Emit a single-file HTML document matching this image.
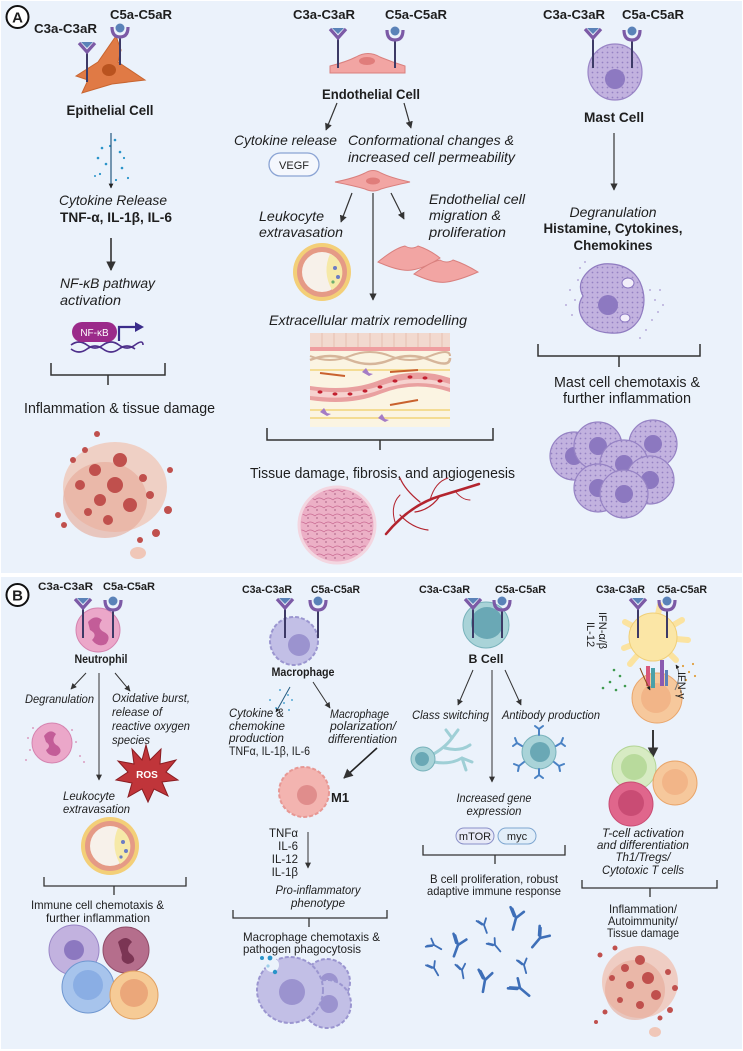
<!DOCTYPE html>
<html><head><meta charset="utf-8"><style>
html,body{margin:0;padding:0;background:#fff;}
svg{display:block;}
text{font-family:"Liberation Sans",sans-serif;fill:#1e1e1e;}
.b{font-weight:bold;}
.i{font-style:italic;}
</style></head><body>
<svg width="743" height="1051" viewBox="0 0 743 1051" xmlns="http://www.w3.org/2000/svg">
<defs>
<marker id="ah" viewBox="0 0 10 10" refX="9" refY="5" markerWidth="6" markerHeight="6" orient="auto"><path d="M0,0 L10,5 L0,10 z" fill="#333"/></marker>
<marker id="ahb" viewBox="0 0 10 10" refX="9" refY="5" markerWidth="4" markerHeight="4" orient="auto"><path d="M0,0 L10,5 L0,10 z" fill="#222"/></marker>
<pattern id="dots" width="5" height="5" patternUnits="userSpaceOnUse"><circle cx="2.5" cy="2.5" r="0.9" fill="#9582c3"/></pattern>
<pattern id="pk" width="9" height="8" patternUnits="userSpaceOnUse"><path d="M0,4 Q4,0 9,4" stroke="#c96b93" stroke-width="0.8" fill="none"/><circle cx="2" cy="6" r="0.6" fill="#7a2a55"/></pattern>
<g id="c3"><line x1="0" y1="10" x2="0" y2="40" stroke="#3d3a66" stroke-width="2"/><path d="M-8,1 L0,10 L8,1" stroke="#7c5aa6" stroke-width="3.2" fill="none"/><polygon points="-6,0 6,0 0,6" fill="#5a82b8"/></g>
<g id="c5"><line x1="0" y1="11" x2="0" y2="40" stroke="#3d3a66" stroke-width="2"/><path d="M-8,2 Q-8,12 0,12 Q8,12 8,2" stroke="#7c5aa6" stroke-width="3.2" fill="none"/><circle cx="0" cy="3" r="4.5" fill="#5a82b8"/></g>
<g id="ab"><path d="M0,12 L0,0 M0,0 L-6,-8 M0,0 L6,-8 M-2.5,-1.5 L-8,-9" stroke="#3e6fb8" stroke-width="2.6" fill="none" stroke-linecap="round"/></g>
<g id="mc"><circle r="24" fill="#c2b2df" stroke="#9683c4" stroke-width="1.2"/><circle r="24" fill="url(#dots)"/><circle r="9" fill="#8c78c0"/></g>
</defs>

<!-- Panels -->
<rect x="1" y="1" width="741" height="572" fill="#ebf2fb"/>
<rect x="1" y="577" width="741" height="472" fill="#ebf2fb"/>
<circle cx="17.5" cy="17" r="11" fill="#fff" stroke="#111" stroke-width="2"/>
<text x="17.5" y="22.5" class="b" font-size="15" text-anchor="middle">A</text>
<circle cx="17.5" cy="595" r="11" fill="#fff" stroke="#111" stroke-width="2"/>
<text x="17.5" y="600.5" class="b" font-size="15" text-anchor="middle">B</text>

<!-- ===== Panel A left: epithelial ===== -->
<text x="34" y="33" class="b" font-size="13" textLength="63" lengthAdjust="spacingAndGlyphs">C3a-C3aR</text>
<text x="110" y="19" class="b" font-size="13" textLength="62" lengthAdjust="spacingAndGlyphs">C5a-C5aR</text>
<path d="M76,76 L98,62 L116,36 L121,50 L118,62 L145,80 L112,84 L82,93 L88,80 Z" fill="#e07a45" stroke="#c86530" stroke-width="1"/>
<ellipse cx="109" cy="70" rx="7" ry="6" fill="#b9531f"/>
<use href="#c3" x="87" y="42"/>
<use href="#c5" x="120" y="25"/>
<text x="110" y="115" class="b" font-size="14" text-anchor="middle" textLength="87" lengthAdjust="spacingAndGlyphs">Epithelial Cell</text>
<g fill="#2a94c9">
<circle cx="102" cy="148" r="1.3"/><circle cx="115" cy="140" r="1.3"/><circle cx="98" cy="158" r="1.3"/><circle cx="120" cy="152" r="1.3"/><circle cx="106" cy="164" r="1.3"/><circle cx="122" cy="168" r="1.3"/><circle cx="100" cy="174" r="1.1"/><circle cx="128" cy="178" r="1.1"/><circle cx="116" cy="180" r="1.1"/><circle cx="110" cy="146" r="1.1"/><circle cx="124" cy="158" r="1.1"/><circle cx="95" cy="176" r="1"/>
</g>
<line x1="111" y1="133" x2="111" y2="188" stroke="#245a80" stroke-width="1.2" marker-end="url(#ahb)"/>
<text x="113" y="205" class="i" font-size="14" text-anchor="middle" textLength="108" lengthAdjust="spacingAndGlyphs">Cytokine Release</text>
<text x="60" y="222" class="b" font-size="14" textLength="112" lengthAdjust="spacingAndGlyphs">TNF-α, IL-1β, IL-6</text>
<line x1="111" y1="238" x2="111" y2="270" stroke="#333" stroke-width="1.6" marker-end="url(#ah)"/>
<text x="60" y="288" class="i" font-size="14" textLength="95" lengthAdjust="spacingAndGlyphs">NF-κB pathway</text>
<text x="60" y="305" class="i" font-size="14" textLength="61" lengthAdjust="spacingAndGlyphs">activation</text>
<path d="M71,345 Q79,339 87,345 T103,345 T119,345 T135,345 T143,345 M71,349 Q79,355 87,349 T103,349 T119,349 T135,349" stroke="#4d2e8a" stroke-width="1.6" fill="none"/>
<rect x="72" y="322" width="45" height="20" rx="10" fill="#9b2a8a"/>
<text x="94.5" y="336" font-size="10" fill="#fff" text-anchor="middle" style="fill:#fff">NF-κB</text>
<path d="M119,341 L119,327 L137,327" stroke="#3a2c8a" stroke-width="2.2" fill="none"/>
<polygon points="135,322 144,327 135,332" fill="#3a2c8a"/>
<path d="M51,363 L51,375 L165,375 L165,363 M108,375 L108,385" stroke="#333" stroke-width="1.5" fill="none"/>
<text x="24" y="413" font-size="14.5" textLength="191" lengthAdjust="spacingAndGlyphs">Inflammation &amp; tissue damage</text>
<g>
<ellipse cx="115" cy="487" rx="52" ry="45" fill="#f0c7b8" opacity="0.8"/>
<ellipse cx="105" cy="500" rx="42" ry="38" fill="#e6a896" opacity="0.6"/>
<g fill="#c0504d"><circle cx="120" cy="460" r="7"/><circle cx="95" cy="470" r="6"/><circle cx="80" cy="485" r="5"/><circle cx="115" cy="485" r="8"/><circle cx="100" cy="500" r="6"/><circle cx="130" cy="505" r="7"/><circle cx="143" cy="478" r="4"/><circle cx="150" cy="495" r="4"/><circle cx="108" cy="520" r="5"/><circle cx="88" cy="512" r="4"/><circle cx="73" cy="460" r="3"/><circle cx="85" cy="450" r="3"/><circle cx="170" cy="470" r="3"/><circle cx="168" cy="510" r="4"/><circle cx="58" cy="515" r="3"/><circle cx="64" cy="525" r="3"/><circle cx="156" cy="533" r="4"/><circle cx="140" cy="540" r="3"/><circle cx="97" cy="434" r="3"/></g>
<ellipse cx="138" cy="553" rx="8" ry="6" fill="#f0c7b8"/>
</g>

<!-- ===== Panel A middle: endothelial ===== -->
<text x="293" y="19" class="b" font-size="13" textLength="62" lengthAdjust="spacingAndGlyphs">C3a-C3aR</text>
<text x="385" y="19" class="b" font-size="13" textLength="62" lengthAdjust="spacingAndGlyphs">C5a-C5aR</text>
<path d="M330,73 L330,66 Q346,62 356,57 Q368,50 380,57 Q392,62 405,66 L405,73 Z" fill="#f2a5a3" stroke="#d9807e" stroke-width="1"/>
<ellipse cx="367" cy="61" rx="8" ry="4" fill="#e07d7b"/>
<use href="#c3" x="338" y="28" />
<use href="#c5" x="395" y="28" />
<text x="371" y="99" class="b" font-size="14" text-anchor="middle" textLength="98" lengthAdjust="spacingAndGlyphs">Endothelial Cell</text>
<line x1="337" y1="103" x2="326" y2="130" stroke="#333" stroke-width="1.2" marker-end="url(#ah)"/>
<line x1="404" y1="103" x2="411" y2="128" stroke="#333" stroke-width="1.2" marker-end="url(#ah)"/>
<text x="234" y="145" class="i" font-size="14" textLength="103" lengthAdjust="spacingAndGlyphs">Cytokine release</text>
<text x="348" y="145" class="i" font-size="14" textLength="166" lengthAdjust="spacingAndGlyphs">Conformational changes &amp;</text>
<text x="348" y="162" class="i" font-size="14" textLength="167" lengthAdjust="spacingAndGlyphs">increased cell permeability</text>
<rect x="269" y="153" width="50" height="23" rx="11.5" fill="#f4f7fd" stroke="#8ba4d4" stroke-width="1.3"/>
<text x="294" y="169" font-size="11" text-anchor="middle">VEGF</text>
<path d="M335,182 Q355,178 365,173 Q373,168 381,173 Q391,178 410,182 Q391,186 381,189 Q373,193 365,189 Q355,186 335,182 Z" fill="#f2a5a3" stroke="#d9807e"/>
<ellipse cx="373" cy="181" rx="7" ry="3.5" fill="#e07d7b"/>
<line x1="352" y1="193" x2="341" y2="222" stroke="#333" stroke-width="1.2" marker-end="url(#ah)"/>
<line x1="373" y1="193" x2="373" y2="300" stroke="#333" stroke-width="1.2" marker-end="url(#ah)"/>
<line x1="391" y1="193" x2="404" y2="219" stroke="#333" stroke-width="1.2" marker-end="url(#ah)"/>
<text x="259" y="221" class="i" font-size="14" textLength="65" lengthAdjust="spacingAndGlyphs">Leukocyte</text>
<text x="259" y="237" class="i" font-size="14" textLength="84" lengthAdjust="spacingAndGlyphs">extravasation</text>
<text x="429" y="204" class="i" font-size="14" textLength="96" lengthAdjust="spacingAndGlyphs">Endothelial cell</text>
<text x="429" y="220" class="i" font-size="14" textLength="72" lengthAdjust="spacingAndGlyphs">migration &amp;</text>
<text x="429" y="237" class="i" font-size="14" textLength="77" lengthAdjust="spacingAndGlyphs">proliferation</text>
<g>
<circle cx="322" cy="272" r="29" fill="#f3cf78"/>
<circle cx="322" cy="272" r="25" fill="#e59a86"/>
<circle cx="322" cy="272" r="20" fill="#f7f1ea"/>
<path d="M330,254 Q322,272 332,290 A20,20 0 0,0 330,254 Z" fill="#f6e9a8"/>
<circle cx="335" cy="268" r="2" fill="#6c7cc4"/><circle cx="338" cy="277" r="2" fill="#6c7cc4"/><circle cx="333" cy="282" r="1.6" fill="#6fae6f"/>
</g>
<path d="M378,262 Q395,248 405,246 Q412,250 418,246 Q430,250 440,258 Q425,268 412,270 Q400,272 378,262 Z" fill="#f2a5a3" stroke="#d9807e"/>
<path d="M414,274 Q430,262 440,260 Q447,264 453,260 Q465,264 478,272 Q460,280 447,282 Q435,284 414,274 Z" fill="#f2a5a3" stroke="#d9807e"/>
<text x="269" y="325" class="i" font-size="14" textLength="198" lengthAdjust="spacingAndGlyphs">Extracellular matrix remodelling</text>
<g>
<rect x="310" y="333" width="140" height="94" fill="#fbf4e2"/>
<rect x="310" y="333" width="140" height="14" fill="#f2d9cf"/>
<g stroke="#e2b9ab" stroke-width="0.8"><line x1="322" y1="333" x2="322" y2="347"/><line x1="334" y1="333" x2="334" y2="347"/><line x1="346" y1="333" x2="346" y2="347"/><line x1="358" y1="333" x2="358" y2="347"/><line x1="370" y1="333" x2="370" y2="347"/><line x1="382" y1="333" x2="382" y2="347"/><line x1="394" y1="333" x2="394" y2="347"/><line x1="406" y1="333" x2="406" y2="347"/><line x1="418" y1="333" x2="418" y2="347"/><line x1="430" y1="333" x2="430" y2="347"/><line x1="442" y1="333" x2="442" y2="347"/></g>
<rect x="310" y="347" width="140" height="4" fill="#ef9ea0"/>
<path d="M310,360 Q330,352 350,360 T390,360 T430,360 T450,358" stroke="#d6b59a" stroke-width="2.5" fill="none"/>
<path d="M310,356 Q330,364 350,356 T390,356 T430,356 T450,356" stroke="#d6b59a" stroke-width="2" fill="none"/>
<path d="M310,370 L450,370 M310,410 L450,410 M310,418 L450,418" stroke="#f1d37a" stroke-width="1.5"/>
<path d="M310,386 Q350,392 380,380 Q415,366 450,378 L450,392 Q415,380 380,394 Q350,406 310,400 Z" fill="#e9a0a0"/>
<path d="M310,390 Q350,396 380,386 Q415,373 450,384 L450,388 Q415,377 380,390 Q350,401 310,396 Z" fill="#f6d2cf"/>
<g fill="#c3202f"><ellipse cx="320" cy="392" rx="2.5" ry="1.6"/><ellipse cx="335" cy="394" rx="2.5" ry="1.6"/><ellipse cx="350" cy="394" rx="2.5" ry="1.6"/><ellipse cx="365" cy="391" rx="2.5" ry="1.6"/><ellipse cx="380" cy="387" rx="2.5" ry="1.6"/><ellipse cx="395" cy="381" rx="2.5" ry="1.6"/><ellipse cx="410" cy="377" rx="2.5" ry="1.6"/><ellipse cx="425" cy="378" rx="2.5" ry="1.6"/><ellipse cx="440" cy="381" rx="2.5" ry="1.6"/></g>
<g fill="#a57cc6"><path d="M362,372 l4,-4 l3,5 l4,1 l-4,2 z"/><path d="M320,412 l4,-4 l3,5 l4,1 l-4,2 z"/><path d="M378,418 l4,-4 l3,5 l4,1 l-4,2 z"/></g>
<line x1="320" y1="373" x2="345" y2="376" stroke="#c9612e" stroke-width="2"/>
<line x1="390" y1="372" x2="418" y2="370" stroke="#c9612e" stroke-width="2"/>
<line x1="390" y1="405" x2="418" y2="400" stroke="#c9612e" stroke-width="2"/>
</g>
<path d="M267,428 L267,440 L493,440 L493,428 M380,440 L380,450" stroke="#333" stroke-width="1.5" fill="none"/>
<text x="250" y="478" font-size="14.5" textLength="265" lengthAdjust="spacingAndGlyphs">Tissue damage, fibrosis, and angiogenesis</text>
<circle cx="337" cy="525" r="38" fill="#ecb0c6" stroke="#f3d6e0" stroke-width="3"/>
<circle cx="337" cy="525" r="36" fill="url(#pk)"/>
<g stroke="#b3242e" fill="none" stroke-linecap="round">
<path d="M386,534 Q410,505 440,496 Q460,490 479,484" stroke-width="2.5"/>
<path d="M440,496 Q430,510 415,512" stroke-width="1.2"/>
<path d="M420,502 Q405,490 400,478" stroke-width="1.2"/>
<path d="M400,515 Q412,528 428,530" stroke-width="1.2"/>
<path d="M455,491 Q462,500 470,500" stroke-width="1"/>
<path d="M430,500 Q435,482 448,478" stroke-width="1"/>
<path d="M395,522 Q390,505 400,495" stroke-width="1"/>
</g>

<!-- ===== Panel A right: mast ===== -->
<text x="543" y="19" class="b" font-size="13" textLength="62" lengthAdjust="spacingAndGlyphs">C3a-C3aR</text>
<text x="622" y="19" class="b" font-size="13" textLength="62" lengthAdjust="spacingAndGlyphs">C5a-C5aR</text>
<ellipse cx="615" cy="72" rx="27" ry="28" fill="#c2b2df" stroke="#9a86c6" stroke-width="1.2"/>
<ellipse cx="615" cy="72" rx="27" ry="28" fill="url(#dots)"/>
<circle cx="615" cy="79" r="10" fill="#8d79c1"/>
<use href="#c3" x="593" y="28"/>
<use href="#c5" x="632" y="28"/>
<text x="614" y="122" class="b" font-size="14" text-anchor="middle" textLength="60" lengthAdjust="spacingAndGlyphs">Mast Cell</text>
<line x1="614" y1="133" x2="614" y2="190" stroke="#333" stroke-width="1.2" marker-end="url(#ah)"/>
<text x="613" y="217" class="i" font-size="14" text-anchor="middle" textLength="87" lengthAdjust="spacingAndGlyphs">Degranulation</text>
<text x="613" y="233" class="b" font-size="14" text-anchor="middle" textLength="139" lengthAdjust="spacingAndGlyphs">Histamine, Cytokines,</text>
<text x="613" y="250" class="b" font-size="14" text-anchor="middle" textLength="79" lengthAdjust="spacingAndGlyphs">Chemokines</text>
<path d="M585,275 Q595,262 612,264 Q632,266 640,282 Q648,300 640,318 Q630,335 610,333 Q590,332 582,318 Q576,306 583,296 Q577,285 585,275 Z" fill="#c2b2df" stroke="#8f7bc0" stroke-width="1.2"/>
<path d="M585,275 Q595,262 612,264 Q632,266 640,282 Q648,300 640,318 Q630,335 610,333 Q590,332 582,318 Q576,306 583,296 Q577,285 585,275 Z" fill="url(#dots)"/>
<circle cx="608" cy="305" r="10" fill="#8d79c1"/>
<ellipse cx="628" cy="283" rx="6" ry="5" fill="#f2eefa" stroke="#8d79c1"/>
<ellipse cx="625" cy="318" rx="5" ry="4" fill="#f2eefa" stroke="#8d79c1"/>
<g fill="#a898d0"><circle cx="570" cy="290" r="0.9"/><circle cx="575" cy="300" r="0.9"/><circle cx="566" cy="305" r="0.9"/><circle cx="572" cy="315" r="0.9"/><circle cx="578" cy="280" r="0.9"/><circle cx="650" cy="290" r="0.9"/><circle cx="655" cy="300" r="0.9"/><circle cx="658" cy="312" r="0.9"/><circle cx="652" cy="320" r="0.9"/><circle cx="660" cy="290" r="0.9"/><circle cx="646" cy="330" r="0.9"/><circle cx="580" cy="268" r="0.9"/><circle cx="585" cy="262" r="0.9"/><circle cx="640" cy="338" r="0.9"/><circle cx="663" cy="305" r="0.9"/></g>
<path d="M538,344 L538,356 L700,356 L700,344 M619,356 L619,367" stroke="#333" stroke-width="1.5" fill="none"/>
<text x="627" y="387" font-size="14.5" text-anchor="middle" textLength="146" lengthAdjust="spacingAndGlyphs">Mast cell chemotaxis &amp;</text>
<text x="627" y="403" font-size="14.5" text-anchor="middle" textLength="128" lengthAdjust="spacingAndGlyphs">further inflammation</text>
<use href="#mc" x="574" y="456"/>
<use href="#mc" x="598" y="446"/>
<use href="#mc" x="653" y="444"/>
<use href="#mc" x="624" y="464"/>
<use href="#mc" x="598" y="488"/>
<use href="#mc" x="650" y="480"/>
<use href="#mc" x="624" y="494"/>

<!-- ===== Panel B: neutrophil ===== -->
<text x="38" y="590" class="b" font-size="11" textLength="55" lengthAdjust="spacingAndGlyphs">C3a-C3aR</text>
<text x="103" y="590" class="b" font-size="11" textLength="52" lengthAdjust="spacingAndGlyphs">C5a-C5aR</text>
<circle cx="98" cy="630" r="22" fill="#eba7c9" stroke="#d584b0"/>
<path d="M88,622 Q95,614 102,620 Q96,628 104,632 Q112,636 106,644 Q98,648 92,640 Q98,634 90,630 Z" fill="#c35d98"/>
<use href="#c3" x="83" y="598"/>
<use href="#c5" x="113" y="598"/>
<text x="101" y="663" class="b" font-size="11.5" text-anchor="middle" textLength="53" lengthAdjust="spacingAndGlyphs">Neutrophil</text>
<line x1="86" y1="673" x2="71" y2="689" stroke="#333" stroke-width="1" marker-end="url(#ah)"/>
<line x1="99" y1="673" x2="99" y2="780" stroke="#333" stroke-width="1" marker-end="url(#ah)"/>
<line x1="115" y1="673" x2="130" y2="691" stroke="#333" stroke-width="1" marker-end="url(#ah)"/>
<text x="25" y="703" class="i" font-size="11.5" textLength="69" lengthAdjust="spacingAndGlyphs">Degranulation</text>
<text x="112" y="702" class="i" font-size="11.5" textLength="78" lengthAdjust="spacingAndGlyphs">Oxidative burst,</text>
<text x="112" y="716" class="i" font-size="11.5" textLength="50" lengthAdjust="spacingAndGlyphs">release of</text>
<text x="112" y="730" class="i" font-size="11.5" textLength="78" lengthAdjust="spacingAndGlyphs">reactive oxygen</text>
<text x="112" y="744" class="i" font-size="11.5" textLength="38" lengthAdjust="spacingAndGlyphs">species</text>
<circle cx="52" cy="743" r="20" fill="#eba7c9" stroke="#d584b0"/>
<path d="M44,736 Q50,728 56,734 Q50,742 58,746 Q64,752 56,756 Q48,756 46,750 Q52,746 46,742 Z" fill="#c35d98"/>
<g fill="#d584b0"><circle cx="28" cy="738" r="0.9"/><circle cx="30" cy="750" r="0.9"/><circle cx="26" cy="760" r="0.9"/><circle cx="76" cy="742" r="0.9"/><circle cx="80" cy="756" r="0.9"/><circle cx="84" cy="762" r="0.9"/><circle cx="72" cy="730" r="0.9"/><circle cx="33" cy="728" r="0.9"/></g>
<polygon points="146,745 150,760 161,749 160,764 176,760 166,772 178,780 162,782 168,796 154,789 148,802 142,789 128,797 132,783 116,780 128,772 118,761 134,764 132,749 142,760" fill="#c0353a" stroke="#8a1d22" stroke-width="1"/>
<text x="147" y="778" class="b" font-size="10" text-anchor="middle" style="fill:#fff">ROS</text>
<text x="63" y="800" class="i" font-size="11.5" textLength="52" lengthAdjust="spacingAndGlyphs">Leukocyte</text>
<text x="63" y="813" class="i" font-size="11.5" textLength="67" lengthAdjust="spacingAndGlyphs">extravasation</text>
<circle cx="110" cy="846" r="29" fill="#f3cf78"/>
<circle cx="110" cy="846" r="25" fill="#e59a86"/>
<circle cx="110" cy="846" r="20" fill="#f7f1ea"/>
<path d="M118,828 Q110,846 120,864 A20,20 0 0,0 118,828 Z" fill="#f6e9a8"/>
<circle cx="123" cy="842" r="2" fill="#6c7cc4"/><circle cx="126" cy="851" r="2" fill="#6c7cc4"/><circle cx="121" cy="857" r="1.6" fill="#6c7cc4"/>
<path d="M44,877 L44,886 L186,886 L186,877 M114,886 L114,895" stroke="#333" stroke-width="1.3" fill="none"/>
<text x="31" y="909" font-size="12" textLength="133" lengthAdjust="spacingAndGlyphs">Immune cell chemotaxis &amp;</text>
<text x="98" y="922" font-size="12" text-anchor="middle" textLength="104" lengthAdjust="spacingAndGlyphs">further inflammation</text>
<circle cx="74" cy="950" r="25" fill="#c2b2df" stroke="#9a86c6"/><circle cx="74" cy="950" r="10" fill="#8c78c0"/>
<circle cx="126" cy="950" r="23" fill="#b56e8c" stroke="#8f4c68"/><path d="M118,942 Q126,934 132,942 Q124,950 132,955 Q138,962 128,964 Q120,962 122,955 Z" fill="#7b3554"/>
<circle cx="88" cy="987" r="26" fill="#a7c4ec" stroke="#6f97d0"/><circle cx="88" cy="985" r="15" fill="#8aaee4"/>
<circle cx="134" cy="995" r="24" fill="#f6cb96" stroke="#e0a060"/><circle cx="134" cy="993" r="14" fill="#eba77a"/>

<!-- ===== Panel B: macrophage ===== -->
<text x="242" y="593" class="b" font-size="11" textLength="50" lengthAdjust="spacingAndGlyphs">C3a-C3aR</text>
<text x="311" y="593" class="b" font-size="11" textLength="49" lengthAdjust="spacingAndGlyphs">C5a-C5aR</text>
<circle cx="294" cy="641" r="24" fill="#c2bfe6" stroke="#9b96d0" stroke-width="2" stroke-dasharray="4 2"/>
<circle cx="299" cy="645" r="11" fill="#9b93cf"/>
<use href="#c3" x="285" y="598"/>
<use href="#c5" x="318" y="598"/>
<text x="303" y="676" class="b" font-size="12" text-anchor="middle" textLength="63" lengthAdjust="spacingAndGlyphs">Macrophage</text>
<line x1="290" y1="687" x2="276" y2="712" stroke="#245a80" stroke-width="1" marker-end="url(#ahb)"/>
<g fill="#2a94c9"><circle cx="280" cy="690" r="0.9"/><circle cx="288" cy="695" r="0.9"/><circle cx="270" cy="700" r="0.9"/><circle cx="284" cy="703" r="0.9"/><circle cx="292" cy="700" r="0.9"/><circle cx="276" cy="708" r="0.9"/><circle cx="289" cy="710" r="0.9"/></g>
<line x1="313" y1="682" x2="330" y2="708" stroke="#333" stroke-width="1" marker-end="url(#ah)"/>
<text x="229" y="717" class="i" font-size="11.5" textLength="55" lengthAdjust="spacingAndGlyphs">Cytokine &amp;</text>
<text x="229" y="730" class="i" font-size="11.5" textLength="56" lengthAdjust="spacingAndGlyphs">chemokine</text>
<text x="229" y="742" class="i" font-size="11.5" textLength="55" lengthAdjust="spacingAndGlyphs">production</text>
<text x="229" y="755" font-size="11.5" textLength="81" lengthAdjust="spacingAndGlyphs">TNFα, IL-1β, IL-6</text>
<text x="330" y="718" class="i" font-size="11.5" textLength="59" lengthAdjust="spacingAndGlyphs">Macrophage</text>
<text x="330" y="730" class="i" font-size="11.5" textLength="66" lengthAdjust="spacingAndGlyphs">polarization/</text>
<text x="328" y="743" class="i" font-size="11.5" textLength="69" lengthAdjust="spacingAndGlyphs">differentiation</text>
<line x1="377" y1="748" x2="344" y2="778" stroke="#222" stroke-width="1.6" marker-end="url(#ah)"/>
<circle cx="304" cy="792" r="25" fill="#f3b4b0" stroke="#e79894" stroke-width="2" stroke-dasharray="4 2"/>
<circle cx="307" cy="795" r="10" fill="#e08d8c"/>
<text x="331" y="802" class="b" font-size="13">M1</text>
<text x="298" y="837" font-size="11.5" text-anchor="end">TNFα</text>
<text x="298" y="850" font-size="11.5" text-anchor="end">IL-6</text>
<text x="298" y="863" font-size="11.5" text-anchor="end">IL-12</text>
<text x="298" y="876" font-size="11.5" text-anchor="end">IL-1β</text>
<line x1="308" y1="832" x2="308" y2="868" stroke="#333" stroke-width="1" marker-end="url(#ah)"/>
<text x="318" y="894" class="i" font-size="11.5" text-anchor="middle" textLength="85" lengthAdjust="spacingAndGlyphs">Pro-inflammatory</text>
<text x="318" y="907" class="i" font-size="11.5" text-anchor="middle" textLength="54" lengthAdjust="spacingAndGlyphs">phenotype</text>
<path d="M233,910 L233,918 L387,918 L387,910 M309,918 L309,927" stroke="#333" stroke-width="1.3" fill="none"/>
<text x="243" y="941" font-size="12" textLength="137" lengthAdjust="spacingAndGlyphs">Macrophage chemotaxis &amp;</text>
<text x="243" y="953" font-size="12" textLength="118" lengthAdjust="spacingAndGlyphs">pathogen phagocytosis</text>
<circle cx="327" cy="982" r="23" fill="#c2bfe6" stroke="#9b96d0" stroke-width="2" stroke-dasharray="4 2"/><circle cx="329" cy="982" r="9" fill="#9b93cf"/>
<circle cx="327" cy="1004" r="24" fill="#c2bfe6" stroke="#9b96d0" stroke-width="2" stroke-dasharray="4 2"/><circle cx="329" cy="1004" r="9" fill="#9b93cf"/>
<circle cx="290" cy="990" r="33" fill="#c2bfe6" stroke="#9b96d0" stroke-width="2" stroke-dasharray="4 2"/><circle cx="292" cy="992" r="13" fill="#9b93cf"/>
<circle cx="272" cy="965" r="7" fill="#ebf2fb"/>
<g fill="#2a94c9"><circle cx="262" cy="958" r="2"/><circle cx="270" cy="958" r="2.4"/><circle cx="268" cy="966" r="1.6" fill="#9fd0ea"/><circle cx="275" cy="972" r="2.2"/></g>

<!-- ===== Panel B: B cell ===== -->
<text x="419" y="593" class="b" font-size="11" textLength="51" lengthAdjust="spacingAndGlyphs">C3a-C3aR</text>
<text x="495" y="593" class="b" font-size="11" textLength="51" lengthAdjust="spacingAndGlyphs">C5a-C5aR</text>
<circle cx="486" cy="625" r="23" fill="#a9d3d8" stroke="#78b2bb"/>
<circle cx="487" cy="623" r="16" fill="#6aa8b5"/>
<use href="#c3" x="473" y="598" />
<use href="#c5" x="502" y="598" />
<text x="486" y="663" class="b" font-size="12" text-anchor="middle" textLength="35" lengthAdjust="spacingAndGlyphs">B Cell</text>
<line x1="473" y1="670" x2="458" y2="705" stroke="#333" stroke-width="1" marker-end="url(#ah)"/>
<line x1="492" y1="670" x2="492" y2="782" stroke="#333" stroke-width="1" marker-end="url(#ah)"/>
<line x1="505" y1="670" x2="521" y2="705" stroke="#333" stroke-width="1" marker-end="url(#ah)"/>
<text x="412" y="719" class="i" font-size="11.5" textLength="77" lengthAdjust="spacingAndGlyphs">Class switching</text>
<text x="502" y="719" class="i" font-size="11.5" textLength="98" lengthAdjust="spacingAndGlyphs">Antibody production</text>
<g stroke="#9fcfd6" stroke-width="3" fill="none" stroke-linecap="round">
<path d="M430,756 Q445,748 452,738 L458,730"/><path d="M445,748 Q460,752 470,745"/><path d="M452,738 L446,730"/><path d="M434,762 Q450,765 462,758 L472,762"/><path d="M462,758 L466,770"/></g>
<circle cx="423" cy="759" r="12" fill="#a9d3d8" stroke="#78b2bb"/><circle cx="422" cy="759" r="7" fill="#6aa8b5"/>
<circle cx="539" cy="752" r="17" fill="#a9d3d8" stroke="#78b2bb"/><circle cx="540" cy="752" r="10" fill="#6aa8b5"/>
<g stroke="#4a82c4" stroke-width="2" fill="none" stroke-linecap="round">
<path d="M539,735 L539,729 M535,726 L539,729 L543,726"/><path d="M539,769 L539,775 M535,778 L539,775 L543,778"/><path d="M522,746 L517,743 M515,738 L517,743 L513,746"/><path d="M556,746 L561,743 M563,738 L561,743 L565,746"/><path d="M524,762 L519,766 M514,764 L519,766 L518,771"/><path d="M554,762 L559,766 M564,764 L559,766 L560,771"/></g>
<text x="494" y="802" class="i" font-size="11.5" text-anchor="middle" textLength="75" lengthAdjust="spacingAndGlyphs">Increased gene</text>
<text x="494" y="815" class="i" font-size="11.5" text-anchor="middle" textLength="55" lengthAdjust="spacingAndGlyphs">expression</text>
<rect x="456" y="828" width="38" height="16" rx="8" fill="#e7e9f7" stroke="#8a90c8"/>
<text x="475" y="840" font-size="11" text-anchor="middle">mTOR</text>
<rect x="498" y="828" width="38" height="16" rx="8" fill="#e2eef9" stroke="#7ea6d0"/>
<text x="517" y="840" font-size="11" text-anchor="middle">myc</text>
<path d="M423,845 L423,855 L565,855 L565,845 M495,855 L495,864" stroke="#333" stroke-width="1.3" fill="none"/>
<text x="430" y="883" font-size="12" textLength="128" lengthAdjust="spacingAndGlyphs">B cell proliferation, robust</text>
<text x="427" y="895" font-size="12" textLength="134" lengthAdjust="spacingAndGlyphs">adaptive immune response</text>
<use href="#ab" transform="translate(516,918) rotate(15)"/>
<use href="#ab" transform="translate(484,925) rotate(-20) scale(0.7)"/>
<use href="#ab" transform="translate(540,938) rotate(40)"/>
<use href="#ab" transform="translate(434,945) rotate(-60) scale(0.7)"/>
<use href="#ab" transform="translate(458,945) rotate(20)"/>
<use href="#ab" transform="translate(495,945) rotate(-40) scale(0.7)"/>
<use href="#ab" transform="translate(434,968) rotate(-30) scale(0.7)"/>
<use href="#ab" transform="translate(462,970) rotate(-10) scale(0.7)"/>
<use href="#ab" transform="translate(524,965) rotate(-15) scale(0.7)"/>
<use href="#ab" transform="translate(485,980) rotate(10)"/>
<use href="#ab" transform="translate(520,988) rotate(-50)"/>

<!-- ===== Panel B: T cell ===== -->
<text x="596" y="593" class="b" font-size="11" textLength="49" lengthAdjust="spacingAndGlyphs">C3a-C3aR</text>
<text x="657" y="593" class="b" font-size="11" textLength="50" lengthAdjust="spacingAndGlyphs">C5a-C5aR</text>
<g stroke="#fbe3a0" stroke-width="6" stroke-linecap="round"><line x1="653" y1="637" x2="625" y2="622"/><line x1="653" y1="637" x2="624" y2="648"/><line x1="653" y1="637" x2="682" y2="620"/><line x1="653" y1="637" x2="688" y2="640"/><line x1="653" y1="637" x2="676" y2="660"/><line x1="653" y1="637" x2="630" y2="664"/><line x1="653" y1="637" x2="660" y2="605"/></g>
<circle cx="653" cy="637" r="24" fill="#fbe6a6" stroke="#f0cf78"/>
<circle cx="657" cy="698" r="25" fill="#f6c89c" stroke="#e9a56a"/>
<circle cx="656" cy="698" r="15" fill="#f2b588"/>
<use href="#c3" x="638" y="598"/>
<use href="#c5" x="667" y="598"/>
<rect x="646" y="666" width="4" height="20" fill="#d8567a"/><rect x="651" y="668" width="4" height="20" fill="#4aa0a8"/><rect x="660" y="660" width="4" height="26" fill="#8a5ab0"/><rect x="665" y="670" width="3" height="16" fill="#5a82b8"/>
<path d="M640,668 Q645,680 650,690" stroke="#8a4a1a" stroke-width="1" fill="none" marker-end="url(#ahb)"/>
<path d="M675,690 Q682,675 676,665" stroke="#777" stroke-width="1" fill="none" marker-end="url(#ahb)"/>
<g fill="#3f9a4f"><circle cx="614" cy="670" r="1.3"/><circle cx="620" cy="676" r="1.3"/><circle cx="610" cy="682" r="1.3"/><circle cx="625" cy="686" r="1.3"/><circle cx="616" cy="690" r="1.3"/><circle cx="603" cy="688" r="1.3"/></g>
<g fill="#e0a040"><circle cx="683" cy="666" r="1.1"/><circle cx="689" cy="672" r="1.1"/><circle cx="686" cy="680" r="1.1"/><circle cx="693" cy="664" r="1.1"/><circle cx="695" cy="676" r="1.1"/></g>
<text transform="translate(599,612) rotate(90)" font-size="11">IFN-α/β</text>
<text transform="translate(587,622) rotate(90)" font-size="11">IL-12</text>
<text transform="translate(678,672) rotate(90)" font-size="11">IFN-γ</text>
<line x1="653" y1="730" x2="653" y2="757" stroke="#222" stroke-width="1.8" marker-end="url(#ah)"/>
<circle cx="634" cy="768" r="22" fill="#d7ebc3" stroke="#b3d596"/><circle cx="634" cy="767" r="13" fill="#b8da9c"/>
<circle cx="675" cy="783" r="22" fill="#f6c89c" stroke="#e9a56a"/><circle cx="675" cy="782" r="13" fill="#f2b588"/>
<circle cx="631" cy="804" r="22" fill="#e0668c" stroke="#c94c74"/><circle cx="631" cy="803" r="13" fill="#c94c74"/>
<text x="643" y="837" class="i" font-size="11.5" text-anchor="middle" textLength="82" lengthAdjust="spacingAndGlyphs">T-cell activation</text>
<text x="643" y="849" class="i" font-size="11.5" text-anchor="middle" textLength="92" lengthAdjust="spacingAndGlyphs">and differentiation</text>
<text x="643" y="861" class="i" font-size="11.5" text-anchor="middle" textLength="55" lengthAdjust="spacingAndGlyphs">Th1/Tregs/</text>
<text x="643" y="874" class="i" font-size="11.5" text-anchor="middle" textLength="82" lengthAdjust="spacingAndGlyphs">Cytotoxic T cells</text>
<path d="M582,880 L582,888 L717,888 L717,880 M650,888 L650,897" stroke="#333" stroke-width="1.3" fill="none"/>
<text x="643" y="913" font-size="12" text-anchor="middle" textLength="68" lengthAdjust="spacingAndGlyphs">Inflammation/</text>
<text x="643" y="925" font-size="12" text-anchor="middle" textLength="70" lengthAdjust="spacingAndGlyphs">Autoimmunity/</text>
<text x="643" y="937" font-size="12" text-anchor="middle" textLength="72" lengthAdjust="spacingAndGlyphs">Tissue damage</text>
<ellipse cx="640" cy="982" rx="38" ry="36" fill="#f0c7b8" opacity="0.85"/>
<ellipse cx="635" cy="990" rx="30" ry="30" fill="#e6a896" opacity="0.6"/>
<g fill="#c0504d"><circle cx="640" cy="960" r="5"/><circle cx="625" cy="968" r="4"/><circle cx="648" cy="978" r="6"/><circle cx="630" cy="985" r="4"/><circle cx="656" cy="995" r="5"/><circle cx="620" cy="1000" r="3"/><circle cx="640" cy="1005" r="4"/><circle cx="612" cy="978" r="3"/><circle cx="668" cy="972" r="3"/><circle cx="675" cy="988" r="3"/><circle cx="605" cy="1012" r="2.5"/><circle cx="670" cy="1010" r="3"/><circle cx="600" cy="955" r="2.5"/><circle cx="615" cy="948" r="2.5"/><circle cx="660" cy="1018" r="2.5"/><circle cx="596" cy="1022" r="2"/></g>
<ellipse cx="655" cy="1032" rx="6" ry="5" fill="#f0c7b8"/>
</svg>
</body></html>
